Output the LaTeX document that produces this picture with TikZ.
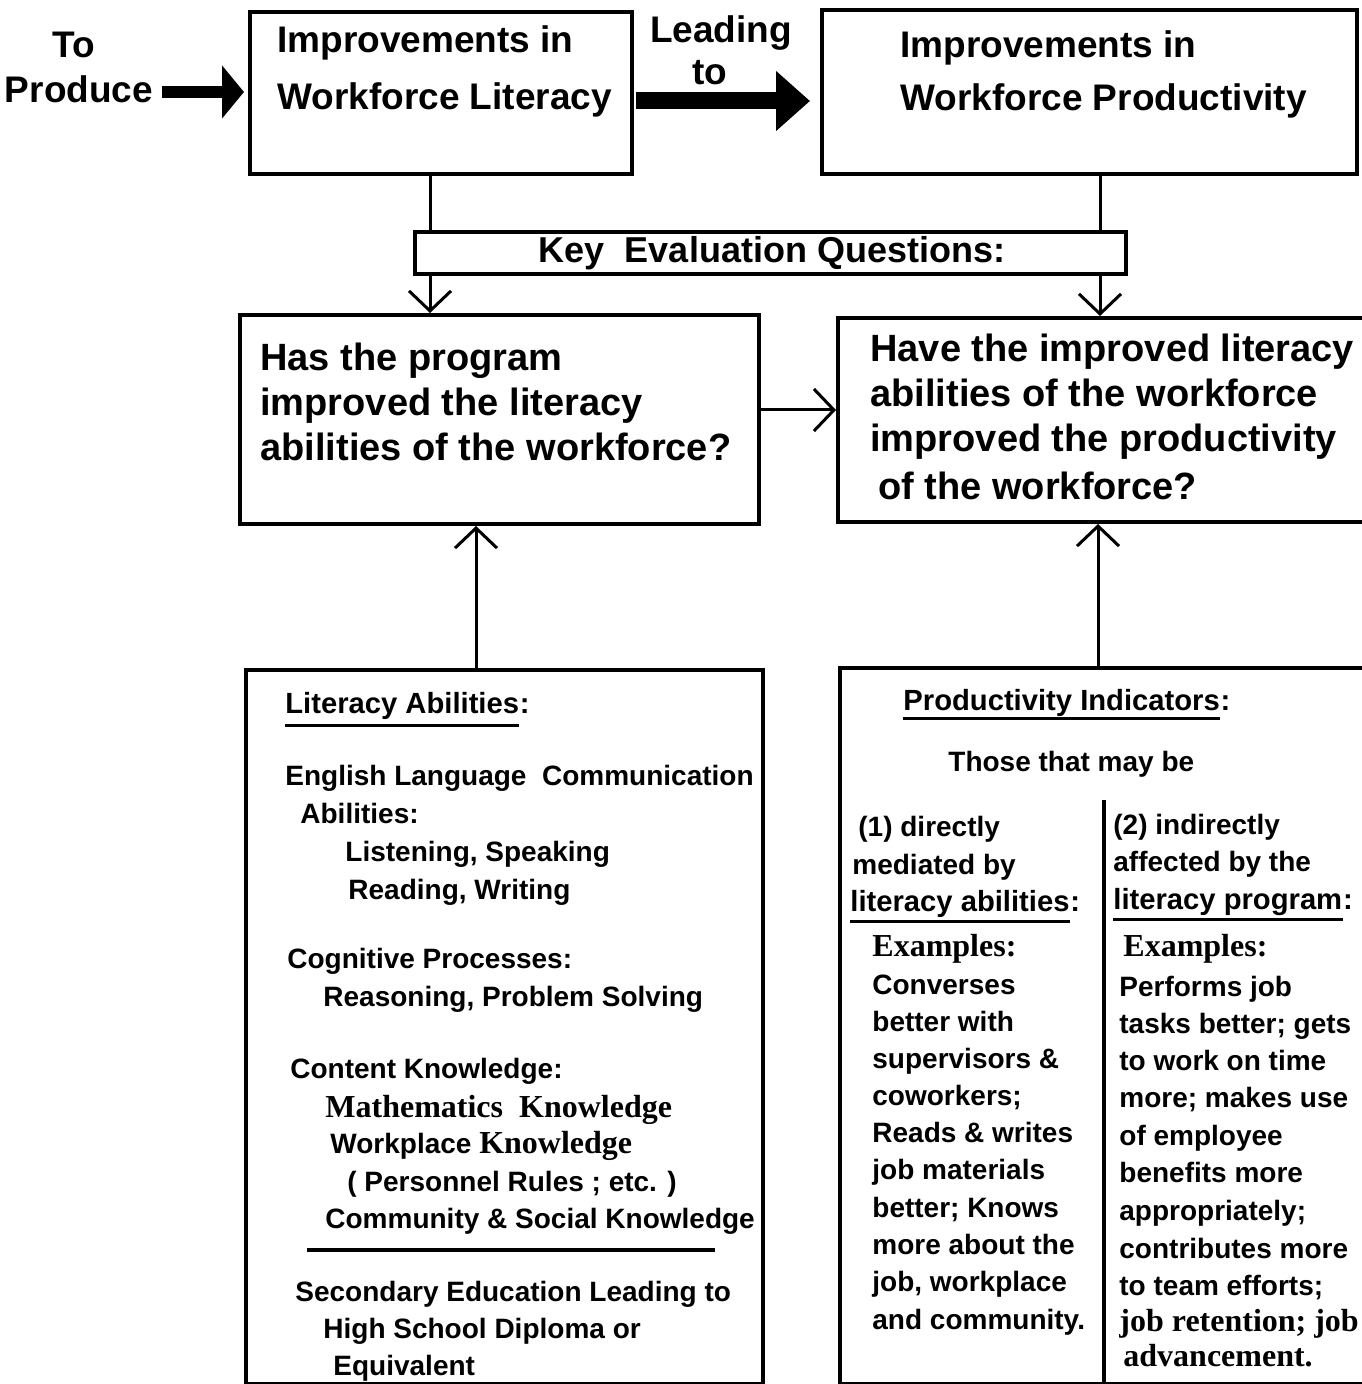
\documentclass[tikz,border=0pt]{standalone}
\usepackage{fontspec}
\setmainfont{Liberation Sans}
\newfontfamily\exfont{Liberation Serif}
\usetikzlibrary{arrows.meta}

\tikzset{
  box/.style={draw, line width=2pt, inner sep=0pt, anchor=north west},
  toptext/.style={anchor=base west, inner sep=0pt, font=\fontsize{18.5}{22}\selectfont\bfseries},
  qtext/.style={anchor=base west, inner sep=0pt, font=\fontsize{19}{22}\selectfont\bfseries},
  bodytext/.style={anchor=base west, inner sep=0pt, font=\fontsize{14}{17}\selectfont\bfseries},
  headtext/.style={anchor=base west, inner sep=0pt, font=\fontsize{14.6}{17}\selectfont\bfseries},
  link/.style={line width=1.5pt, -{Straight Barb[length=10pt,width=21pt,line width=1.5pt]}},
  rule/.style={line width=1.8pt},
}
\newcommand{\exs}{\exfont\fontsize{16}{18}\selectfont}

\begin{document}
\begin{tikzpicture}[x=0.5pt,y=-0.5pt]
  \useasboundingbox (0,0) rectangle (1361,1384);

  % boxes
  \node[box, minimum width=191pt, minimum height=81pt] (impl) at (248,10) {};
  \node[box, minimum width=267.5pt, minimum height=82pt] (impp) at (820,8) {};
  \node[box, minimum width=355.5pt, minimum height=21pt] (keyq) at (413,230) {};
  \node[box, minimum width=259.5pt, minimum height=104.5pt] (qlit) at (238,313) {};
  \node[box, minimum width=265pt, minimum height=102pt] (qprod) at (836,316) {};
  \node[box, minimum width=258.5pt, minimum height=357pt] (litab) at (244,668) {};
  \node[box, minimum width=264pt, minimum height=358pt] (prodind) at (838,666) {};

  % top row
  \node[toptext, anchor=base] (to) at (74,58) {To};
  \node[toptext, anchor=base] (produce) at (79,103) {Produce};
  \node[toptext] (impla) at (277,53) {Improvements in};
  \node[toptext] (implb) at (277,110) {Workforce Literacy};
  \node[toptext, anchor=base] (leading) at (721,43) {Leading};
  \node[toptext, anchor=base] (leadto) at (710,85) {to};
  \node[toptext] (imppa) at (900,58) {Improvements in};
  \node[toptext] (imppb) at (900,111) {Workforce Productivity};

  \coordinate (a1) at (162,92);
  \coordinate (a2) at (636,101);
  \draw[line width=6pt, -{Triangle[length=11pt,width=26pt]}, shorten >=2pt]
    (a1) -- (a1 -| impl.west);
  \draw[line width=8.5pt, -{Triangle[length=17pt,width=29pt]}, shorten >=5pt]
    (a2) -- (a2 -| impp.west);

  % key questions
  \node[anchor=base, inner sep=0pt, font=\fontsize{18}{22}\selectfont\bfseries]
    (keyt) at (772,263) {Key\ \ Evaluation Questions:};

  \coordinate (xl) at (430,0);
  \coordinate (xr) at (1100,0);
  \coordinate (xa) at (476,0);
  \coordinate (xb) at (1098,0);
  \coordinate (ya) at (0,410);
  \draw[line width=1.5pt] (impl.south -| xl) -- (keyq.north -| xl);
  \draw[line width=1.5pt] (impp.south -| xr) -- (keyq.north -| xr);
  \draw[link] (keyq.south -| xl) -- (qlit.north -| xl);
  \draw[link] (keyq.south -| xr) -- (qprod.north -| xr);
  \draw[link] (qlit.east |- ya) -- (qprod.west |- ya);
  \draw[link] (litab.north -| xa) -- (qlit.south -| xa);
  \draw[link] (prodind.north -| xb) -- (qprod.south -| xb);

  % questions
  \foreach \y/\t [count=\i] in {357/Has the program, 402/improved the literacy,
      447/abilities of the workforce?}
    \node[qtext] (ql\i) at (260,\y+13.5) {\t};
  \foreach \x/\y/\t [count=\i] in {870/348/Have the improved literacy,
      870/393/abilities of the workforce, 870/438/improved the productivity,
      878/486/of the workforce?}
    \node[qtext] (qp\i) at (\x,\y+13.5) {\t};

  % literacy abilities
  \node[headtext] (lithead) at (285,713) {Literacy Abilities};
  \node[headtext] (litcolon) at (lithead.base east) {:};
  \draw[rule] ([yshift=-3pt]lithead.south west) -- ([yshift=-3pt]lithead.south east);
  \foreach \x/\y/\t [count=\i] in {
      285/775/{English Language\ \ Communication},
      300/813/{Abilities:},
      345/851/{Listening, Speaking},
      348/889/{Reading, Writing},
      287/958/{Cognitive Processes:},
      323/996/{Reasoning, Problem Solving},
      290/1068/{Content Knowledge:},
      325/1107/{{\exs Mathematics\ \ Knowledge}},
      330/1143/{Workplace {\exs Knowledge}},
      347/1181/{( Personnel Rules ; etc. )},
      325/1218/{Community \& Social Knowledge},
      295/1291/{Secondary Education Leading to},
      323/1328/{High School Diploma or},
      333/1365/{Equivalent}}
    \node[bodytext] (lit\i) at (\x,\y+10) {\t};
  \draw[line width=2pt] (307,1250) -- (715,1250);

  % productivity indicators
  \node[headtext] (prodhead) at (903,710) {Productivity Indicators};
  \node[headtext] (prodcolon) at (prodhead.base east) {:};
  \draw[rule] ([yshift=-1pt]prodhead.south west) -- ([yshift=-1pt]prodhead.south east);
  \node[bodytext] (those) at (948,771) {Those that may be};
  \draw[rule] (prodind.north -| 1104,800) ++(0,134) -- (prodind.south -| 1104,800);
  \foreach \x/\y/\t [count=\i] in {
      858/826/{(1) directly},
      852/864/{mediated by},
      872/946/{{\exs Examples:}},
      872/984/{Converses},
      872/1021/{better with},
      872/1058/{supervisors \&},
      872/1095/{coworkers;},
      872/1132/{Reads \& writes},
      872/1169/{job materials},
      872/1207/{better; Knows},
      872/1244/{more about the},
      872/1281/{job, workplace},
      872/1319/{and community.}}
    \node[bodytext] (dir\i) at (\x,\y+10) {\t};
  \node[headtext] (dirhead) at (850,911) {literacy abilities};
  \node[headtext] (dircolon) at (dirhead.base east) {:};
  \draw[rule] ([yshift=-2pt]dirhead.south west) -- ([yshift=-2pt]dirhead.south east);
  \foreach \x/\y/\t [count=\i] in {
      1113/824/{(2) indirectly},
      1113/861/{affected by the},
      1123/946/{{\exs Examples:}},
      1119/986/{Performs job},
      1119/1023/{tasks better; gets},
      1119/1060/{to work on time},
      1119/1097/{more; makes use},
      1119/1135/{of employee},
      1119/1172/{benefits more},
      1119/1210/{appropriately;},
      1119/1248/{contributes more},
      1119/1285/{to team efforts;},
      1119/1321/{{\exs job retention; job}},
      1123/1356/{{\exs advancement.}}}
    \node[bodytext] (ind\i) at (\x,\y+10) {\t};
  \node[headtext] (indhead) at (1113,909) {literacy program};
  \node[headtext] (indcolon) at (indhead.base east) {:};
  \draw[rule] ([yshift=-2pt]indhead.south west) -- ([yshift=-2pt]indhead.south east);
\end{tikzpicture}
\end{document}
